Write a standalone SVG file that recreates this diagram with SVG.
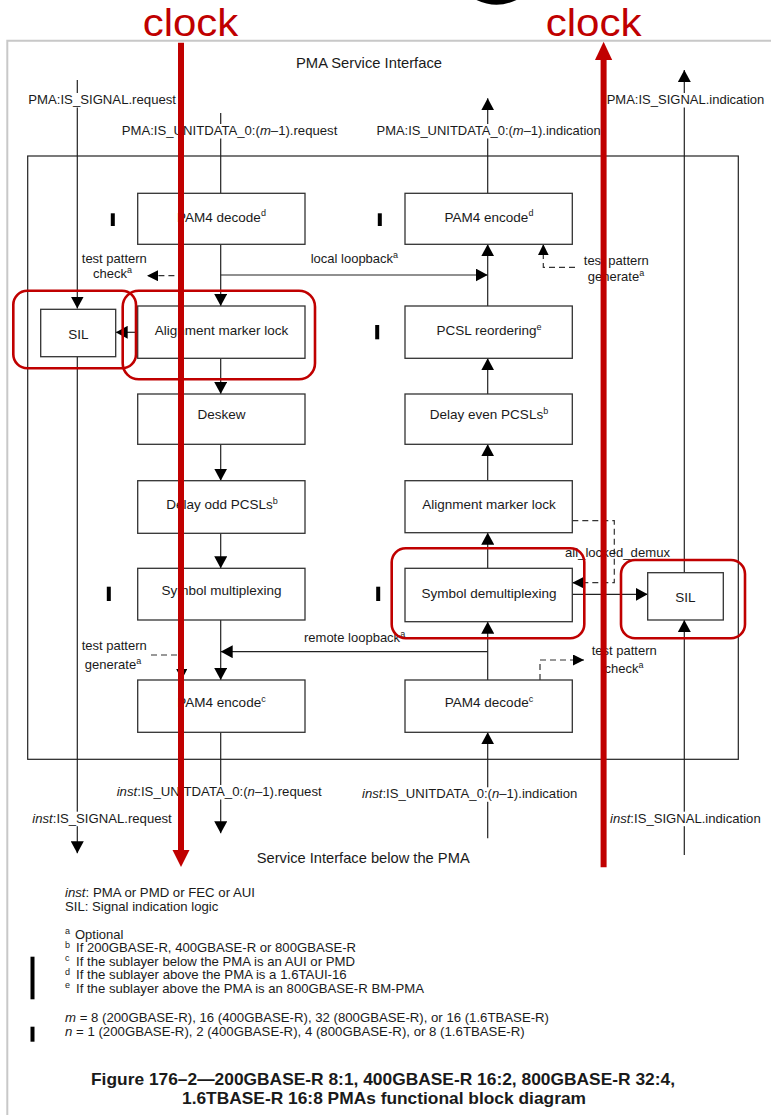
<svg xmlns="http://www.w3.org/2000/svg" width="771" height="1115" viewBox="0 0 771 1115">
  <style>
    .t { font-family: "Liberation Sans", Arial, sans-serif; fill: #1a1a1a; }
    .bx { font-size: 13.5px; text-anchor: middle; }
    .lb { font-size: 13px; }
    .hd { font-size: 14.5px; }
    .sp { font-size: 9px; }
    .cap { font-size: 16.5px; font-weight: bold; text-anchor: middle; }
    .blk { fill: #fff; stroke: #333; stroke-width: 1.3; }
    .ln { fill: none; stroke: #222; stroke-width: 1.2; }
    .dsh { fill: none; stroke: #333; stroke-width: 1.2; stroke-dasharray: 6 4; }
    .bg { fill: #fff; }
    .bar { fill: #000; }
    .red { fill: none; stroke: #c00000; stroke-width: 2.6; }
    .redln { stroke: #c00000; stroke-width: 6; fill: none; }
    .clk { font-family: "Liberation Sans", Arial, sans-serif; font-size: 39px; fill: #c00000; }
  </style>
  <defs>
    <marker id="ah" markerUnits="userSpaceOnUse" markerWidth="12" markerHeight="13" refX="12" refY="6.5" orient="auto">
      <path d="M0,0 L12,6.5 L0,13 z" fill="#000"/>
    </marker>
    <marker id="ahs" markerUnits="userSpaceOnUse" markerWidth="11" markerHeight="11" refX="11" refY="5.5" orient="auto">
      <path d="M0,0 L11,5.5 L0,11 z" fill="#000"/>
    </marker>
  </defs>

  <rect width="771" height="1115" fill="#fff"/>

  <!-- page edge -->
  <path d="M7.3,1115 V40.7 H771" fill="none" stroke="#c8c8c8" stroke-width="2"/>
  <!-- fragment of heading glyph above the page -->
  <path d="M476.5,0 Q496.5,9.5 516.5,0 Z" fill="#000"/>

  <!-- PMA boundary -->
  <rect x="27.7" y="156" width="710.6" height="603.3" fill="none" stroke="#222" stroke-width="1.2"/>

  <text class="t hd" x="296" y="68.3" textLength="146" lengthAdjust="spacingAndGlyphs">PMA Service Interface</text>
  <text class="t hd" x="256.7" y="863" textLength="213" lengthAdjust="spacingAndGlyphs">Service Interface below the PMA</text>

  <!-- connectors -->
  <g id="connectors">
    <!-- transmit direction -->
    <path class="ln" d="M77.3,80 V308.5" marker-end="url(#ah)"/>
    <path class="ln" d="M77.3,356.7 V853.3" marker-end="url(#ah)"/>
    <path class="ln" d="M220.7,113 V193.3"/>
    <path class="ln" d="M220.7,244.3 V306" marker-end="url(#ah)"/>
    <path class="ln" d="M220.7,358.3 V394" marker-end="url(#ah)"/>
    <path class="ln" d="M220.7,444.3 V480.7" marker-end="url(#ah)"/>
    <path class="ln" d="M220.7,533.3 V568.3" marker-end="url(#ah)"/>
    <path class="ln" d="M220.7,620 V680" marker-end="url(#ah)"/>
    <path class="ln" d="M220.7,732.3 V833.3" marker-end="url(#ah)"/>
    <path class="ln" d="M137.7,332.3 H115.7" marker-end="url(#ah)"/>
    <!-- loopbacks -->
    <path class="ln" d="M220.7,275 H487.7" marker-end="url(#ah)"/>
    <path class="ln" d="M487.7,651.7 H220.7" marker-end="url(#ah)"/>
    <!-- receive direction -->
    <path class="ln" d="M487.7,838.3 V732.3" marker-end="url(#ah)"/>
    <path class="ln" d="M487.7,680 V621.7" marker-end="url(#ah)"/>
    <path class="ln" d="M487.7,568.3 V532.7" marker-end="url(#ah)"/>
    <path class="ln" d="M487.7,480.7 V444.3" marker-end="url(#ah)"/>
    <path class="ln" d="M487.7,394 V358.3" marker-end="url(#ah)"/>
    <path class="ln" d="M487.7,306 V244.3" marker-end="url(#ah)"/>
    <path class="ln" d="M487.7,193.3 V98.3" marker-end="url(#ah)"/>
    <path class="ln" d="M572.3,594.3 H647.7" marker-end="url(#ah)"/>
    <path class="ln" d="M684.3,855 V620" marker-end="url(#ah)"/>
    <path class="ln" d="M684.3,572.7 V70" marker-end="url(#ah)"/>
    <!-- optional test pattern and lock status paths -->
    <path class="dsh" d="M183,244.3 V275.7 H147" marker-end="url(#ahs)"/>
    <path class="dsh" d="M575,267.3 H543.3 V244.3" marker-end="url(#ahs)"/>
    <path class="dsh" d="M151,655 H181.7 V680" marker-end="url(#ahs)"/>
    <path class="dsh" d="M540,680 V660 H584" marker-end="url(#ahs)"/>
    <path class="dsh" d="M572.3,520.7 H614.3 V582.7 H572.3" marker-end="url(#ahs)"/>
  </g>

  <!-- service primitive labels (knock out the lines behind them) -->
  <g id="primitives">
    <rect class="bg" x="27" y="93" width="151" height="14.5"/>
    <text class="t lb" x="28.3" y="104" textLength="147.7" lengthAdjust="spacingAndGlyphs">PMA:IS_SIGNAL.request</text>
    <rect class="bg" x="120.5" y="124" width="218" height="14.5"/>
    <text class="t lb" x="121.7" y="135" textLength="215.6" lengthAdjust="spacingAndGlyphs">PMA:IS_UNITDATA_0:(<tspan font-style="italic">m</tspan>–1).request</text>
    <rect class="bg" x="375.5" y="124" width="226.5" height="14.5"/>
    <text class="t lb" x="376.5" y="135" textLength="224.2" lengthAdjust="spacingAndGlyphs">PMA:IS_UNITDATA_0:(<tspan font-style="italic">m</tspan>–1).indication</text>
    <rect class="bg" x="605.5" y="93" width="160" height="14.5"/>
    <text class="t lb" x="606.7" y="104" textLength="157.6" lengthAdjust="spacingAndGlyphs">PMA:IS_SIGNAL.indication</text>
    <rect class="bg" x="115.5" y="785" width="207.5" height="14.5"/>
    <text class="t lb" x="116.7" y="796" textLength="205" lengthAdjust="spacingAndGlyphs"><tspan font-style="italic">inst</tspan>:IS_UNITDATA_0:(<tspan font-style="italic">n</tspan>–1).request</text>
    <rect class="bg" x="361" y="787.3" width="217.5" height="14.5"/>
    <text class="t lb" x="362" y="798.3" textLength="215.3" lengthAdjust="spacingAndGlyphs"><tspan font-style="italic">inst</tspan>:IS_UNITDATA_0:(<tspan font-style="italic">n</tspan>–1).indication</text>
    <rect class="bg" x="31" y="811.7" width="142" height="14.5"/>
    <text class="t lb" x="32.3" y="822.7" textLength="139.4" lengthAdjust="spacingAndGlyphs"><tspan font-style="italic">inst</tspan>:IS_SIGNAL.request</text>
    <rect class="bg" x="609" y="811.7" width="153" height="14.5"/>
    <text class="t lb" x="610" y="822.7" textLength="150.7" lengthAdjust="spacingAndGlyphs"><tspan font-style="italic">inst</tspan>:IS_SIGNAL.indication</text>
  </g>

  <!-- path annotations -->
  <g id="annotations">
    <text class="t lb" x="114.3" y="263.3" text-anchor="middle">test pattern</text>
    <text class="t lb" x="112.5" y="278.3" text-anchor="middle">check<tspan class="sp" dy="-5">a</tspan></text>
    <text class="t lb" x="310.7" y="263.3">local loopback<tspan class="sp" dy="-5">a</tspan></text>
    <text class="t lb" x="616.3" y="265" text-anchor="middle">test pattern</text>
    <text class="t lb" x="616" y="280.7" text-anchor="middle">generate<tspan class="sp" dy="-5">a</tspan></text>
    <text class="t lb" x="565" y="556.7" textLength="105" lengthAdjust="spacingAndGlyphs">all_locked_demux</text>
    <text class="t lb" x="304" y="641.7">remote loopback<tspan class="sp" dy="-5">a</tspan></text>
    <text class="t lb" x="114.2" y="650" text-anchor="middle">test pattern</text>
    <text class="t lb" x="113" y="669.3" text-anchor="middle">generate<tspan class="sp" dy="-5">a</tspan></text>
    <text class="t lb" x="624.2" y="655" text-anchor="middle">test pattern</text>
    <text class="t lb" x="624" y="673.3" text-anchor="middle">check<tspan class="sp" dy="-5">a</tspan></text>
  </g>

  <!-- transmit column -->
  <g id="pam4-decode-tx">
    <rect class="blk" x="137.7" y="193.3" width="167.3" height="51"/>
    <text class="t bx" x="221.5" y="221.7">PAM4 decode<tspan class="sp" dy="-5.5">d</tspan></text>
  </g>
  <g id="am-lock-tx">
    <rect class="blk" x="137.7" y="306" width="167.3" height="52.3"/>
    <text class="t bx" x="221.5" y="335">Alignment marker lock</text>
  </g>
  <g id="deskew">
    <rect class="blk" x="137.7" y="394" width="167.3" height="50.3"/>
    <text class="t bx" x="221.5" y="419.3">Deskew</text>
  </g>
  <g id="delay-odd">
    <rect class="blk" x="137.7" y="480.7" width="167.3" height="52.6"/>
    <text class="t bx" x="222" y="509.3">Delay odd PCSLs<tspan class="sp" dy="-5.5">b</tspan></text>
  </g>
  <g id="symbol-mux">
    <rect class="blk" x="137.7" y="568.3" width="167.3" height="51.7"/>
    <text class="t bx" x="221.5" y="595">Symbol multiplexing</text>
  </g>
  <g id="pam4-encode-tx">
    <rect class="blk" x="137.7" y="680" width="167.3" height="52.3"/>
    <text class="t bx" x="221.5" y="707.3">PAM4 encode<tspan class="sp" dy="-5.5">c</tspan></text>
  </g>
  <g id="sil-tx">
    <rect class="blk" x="40.7" y="309.3" width="75" height="47.4"/>
    <text class="t bx" x="78.3" y="339.3">SIL</text>
  </g>

  <!-- receive column -->
  <g id="pam4-encode-rx">
    <rect class="blk" x="405" y="193.3" width="167.3" height="51"/>
    <text class="t bx" x="489" y="221.7">PAM4 encode<tspan class="sp" dy="-5.5">d</tspan></text>
  </g>
  <g id="pcsl-reorder">
    <rect class="blk" x="405" y="306" width="167.3" height="52.3"/>
    <text class="t bx" x="489" y="335">PCSL reordering<tspan class="sp" dy="-5.5">e</tspan></text>
  </g>
  <g id="delay-even">
    <rect class="blk" x="405" y="394" width="167.3" height="50.3"/>
    <text class="t bx" x="489" y="419.3">Delay even PCSLs<tspan class="sp" dy="-5.5">b</tspan></text>
  </g>
  <g id="am-lock-rx">
    <rect class="blk" x="405" y="480.7" width="167.3" height="52"/>
    <text class="t bx" x="489" y="509">Alignment marker lock</text>
  </g>
  <g id="symbol-demux">
    <rect class="blk" x="405" y="568.3" width="167.3" height="53.4"/>
    <text class="t bx" x="489" y="597.7">Symbol demultiplexing</text>
  </g>
  <g id="pam4-decode-rx">
    <rect class="blk" x="405" y="680" width="167.3" height="52.3"/>
    <text class="t bx" x="489" y="707.3">PAM4 decode<tspan class="sp" dy="-5.5">c</tspan></text>
  </g>
  <g id="sil-rx">
    <rect class="blk" x="647.7" y="572.7" width="75.6" height="47.3"/>
    <text class="t bx" x="685.3" y="601.7">SIL</text>
  </g>

  <!-- change bars -->
  <g id="change-bars">
    <rect class="bar" x="110.8" y="213.3" width="4" height="12.7"/>
    <rect class="bar" x="377.8" y="213.3" width="4" height="12.7"/>
    <rect class="bar" x="375.2" y="325" width="4" height="14.3"/>
    <rect class="bar" x="106.8" y="586.7" width="4" height="14.3"/>
    <rect class="bar" x="376.2" y="586.7" width="4" height="14.3"/>
    <rect class="bar" x="30.5" y="956.7" width="4" height="42.6"/>
    <rect class="bar" x="30.5" y="1026.7" width="4" height="15"/>
  </g>

  <!-- notes -->
  <g id="notes">
    <text class="t lb" x="65" y="897" textLength="190" lengthAdjust="spacingAndGlyphs"><tspan font-style="italic">inst</tspan>: PMA or PMD or FEC or AUI</text>
    <text class="t lb" x="65" y="910.5" textLength="153.3" lengthAdjust="spacingAndGlyphs">SIL: Signal indication logic</text>
    <text class="t sp" x="65" y="934">a</text>
    <text class="t lb" x="75" y="938.5">Optional</text>
    <text class="t sp" x="65" y="947.5">b</text>
    <text class="t lb" x="76" y="952" textLength="280" lengthAdjust="spacingAndGlyphs">If 200GBASE-R, 400GBASE-R or 800GBASE-R</text>
    <text class="t sp" x="65" y="961">c</text>
    <text class="t lb" x="76" y="965.5" textLength="279" lengthAdjust="spacingAndGlyphs">If the sublayer below the PMA is an AUI or PMD</text>
    <text class="t sp" x="65" y="974.5">d</text>
    <text class="t lb" x="76" y="979" textLength="270.7" lengthAdjust="spacingAndGlyphs">If the sublayer above the PMA is a 1.6TAUI-16</text>
    <text class="t sp" x="65" y="988">e</text>
    <text class="t lb" x="76" y="992.5" textLength="348" lengthAdjust="spacingAndGlyphs">If the sublayer above the PMA is an 800GBASE-R BM-PMA</text>
    <text class="t lb" x="65" y="1022.3" textLength="484" lengthAdjust="spacingAndGlyphs"><tspan font-style="italic">m</tspan> = 8 (200GBASE-R), 16 (400GBASE-R), 32 (800GBASE-R), or 16 (1.6TBASE-R)</text>
    <text class="t lb" x="65" y="1036" textLength="459.6" lengthAdjust="spacingAndGlyphs"><tspan font-style="italic">n</tspan> = 1 (200GBASE-R), 2 (400GBASE-R), 4 (800GBASE-R), or 8 (1.6TBASE-R)</text>
  </g>

  <g id="caption">
    <text class="t cap" x="383" y="1085" textLength="584" lengthAdjust="spacingAndGlyphs">Figure 176–2—200GBASE-R 8:1, 400GBASE-R 16:2, 800GBASE-R 32:4,</text>
    <text class="t cap" x="384" y="1104" textLength="404" lengthAdjust="spacingAndGlyphs">1.6TBASE-R 16:8 PMAs functional block diagram</text>
  </g>

  <!-- clock markup drawn over the figure -->
  <g id="clock-markup">
    <rect class="red" x="13.3" y="290.7" width="122.7" height="77.6" rx="14"/>
    <rect class="red" x="122.7" y="290.7" width="192.3" height="88.6" rx="16"/>
    <rect class="red" x="391.7" y="548.3" width="192.6" height="90" rx="14"/>
    <rect class="red" x="621" y="560" width="124" height="78.3" rx="14"/>
    <path class="redln" d="M181,42.7 V851"/>
    <path d="M172.5,850 H189.5 L181,867 Z" fill="#c00000"/>
    <path class="redln" d="M603.6,867.3 V59"/>
    <path d="M595,60 H612.2 L603.6,41.7 Z" fill="#c00000"/>
    <text class="clk" x="142.7" y="35.5" textLength="95.6" lengthAdjust="spacingAndGlyphs">clock</text>
    <text class="clk" x="545.7" y="35.5" textLength="96" lengthAdjust="spacingAndGlyphs">clock</text>
  </g>
</svg>
